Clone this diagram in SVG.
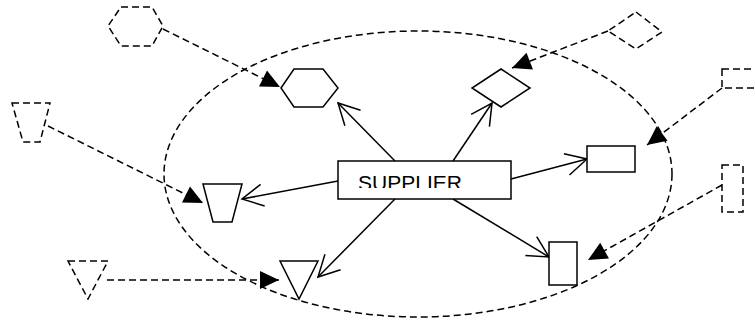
<svg xmlns="http://www.w3.org/2000/svg" width="755" height="322" viewBox="0 0 755 322">
<style>
.s{fill:#fff;stroke:#000;stroke-width:1.5}
.d{fill:#fff;stroke:#000;stroke-width:1.5;stroke-dasharray:7 4}
.c{fill:none;stroke:#000;stroke-width:1.5}
.cd{fill:none;stroke:#000;stroke-width:1.5;stroke-dasharray:7 4}
.lbl{font-family:"Liberation Sans",Arial,sans-serif;font-size:20px;fill:#000}
</style>
<defs>
<marker id="open" markerUnits="userSpaceOnUse" markerWidth="30" markerHeight="30" viewBox="-25 -15 30 30" refX="0" refY="0" orient="auto">
<path d="M-21,-11 L0,0 L-21,11" fill="none" stroke="#000" stroke-width="1.5"/>
</marker>
<marker id="tri" markerUnits="userSpaceOnUse" markerWidth="24" markerHeight="24" viewBox="-21 -12 24 24" refX="0" refY="0" orient="auto">
<path d="M-19,-9 L0,0 L-19,9Z" fill="#000"/>
</marker>
<clipPath id="clipT"><rect x="338" y="161" width="173" height="27"/></clipPath>
</defs>
<rect width="755" height="322" fill="#fff"/>
<g id="boundary">
<ellipse cx="418" cy="174" rx="254" ry="143" class="cd"/>
</g>
<g id="connectors">
<line x1="395" y1="161" x2="338" y2="103" class="c" marker-end="url(#open)"/>
<line x1="453" y1="161" x2="492" y2="103" class="c" marker-end="url(#open)"/>
<line x1="511" y1="179" x2="587" y2="159" class="c" marker-end="url(#open)"/>
<line x1="453" y1="199" x2="549" y2="257" class="c" marker-end="url(#open)"/>
<line x1="395" y1="199" x2="318" y2="277" class="c" marker-end="url(#open)"/>
<line x1="338" y1="181" x2="242" y2="199" class="c" marker-end="url(#open)"/>
<line x1="163" y1="29" x2="280" y2="87" class="cd" marker-end="url(#tri)"/>
<line x1="608" y1="31" x2="512" y2="68" class="cd" marker-end="url(#tri)"/>
<line x1="722" y1="88" x2="647" y2="145" class="cd" marker-end="url(#tri)"/>
<line x1="722" y1="185" x2="588" y2="260" class="cd" marker-end="url(#tri)"/>
<line x1="48" y1="126" x2="203" y2="203" class="cd" marker-end="url(#tri)"/>
<line x1="107" y1="280" x2="279" y2="280" class="cd" marker-end="url(#tri)"/>
</g>
<g id="supplier">
<rect x="338" y="161" width="173" height="38" class="s"/>
<text x="358" y="190" class="lbl" clip-path="url(#clipT)" textLength="104" lengthAdjust="spacingAndGlyphs">SUPPLIER</text>
</g>
<g id="hexagon"><polygon points="281,88 294,69 323,69 338,88 323,107 294,107" class="s"/></g>
<g id="diamond"><polygon points="501,69 530,88 501,107 472,88" class="s"/></g>
<g id="rect-wide"><rect x="587" y="146" width="48" height="26" class="s"/></g>
<g id="rect-tall"><rect x="549" y="242" width="28" height="43" class="s"/></g>
<g id="triangle"><polygon points="280,261 318,261 299,299" class="s"/></g>
<g id="trapezoid"><polygon points="203,184 242,184 232,222 213,222" class="s"/></g>
<g id="ext-hexagon"><polygon points="121,7 152,7 163,26 152,46 121,46 108,26" class="d"/></g>
<g id="ext-diamond"><polygon points="636,12 662,32 636,49 608,31" class="d"/></g>
<g id="ext-rect-wide"><rect x="722" y="69" width="45" height="19" class="d"/></g>
<g id="ext-rect-tall"><rect x="722" y="165" width="21" height="47" class="d"/></g>
<g id="ext-trapezoid"><polygon points="12,103 50,103 40,142 23,142" class="d"/></g>
<g id="ext-triangle"><polygon points="68,261 108,261 88,299" class="d"/></g>
</svg>
